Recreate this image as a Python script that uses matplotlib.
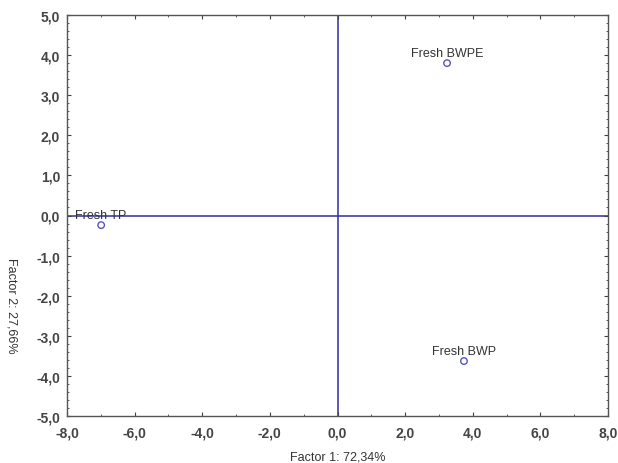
import numpy as np
import matplotlib
matplotlib.use("Agg")
import matplotlib.pyplot as plt
from matplotlib.ticker import MultipleLocator, FuncFormatter

plt.rcParams['font.family'] = ['Liberation Sans', 'DejaVu Sans']

# scores des échantillons sur les deux premiers facteurs
labels = ["Fresh BWPE", "Fresh TP", "Fresh BWP"]
f1 = [3.24, -6.99, 3.74]
f2 = [3.80, -0.24, -3.63]

fig = plt.figure(figsize=(6.18, 4.64), dpi=100)
ax = fig.add_axes([67 / 618, 1 - 417 / 464, 541 / 618, 401 / 464])

ax.axhline(0, color="#2b2f9e", lw=1.1, zorder=1)
ax.axvline(0, color="#2b2f9e", lw=1.1, zorder=1)

ax.scatter(f1, f2, s=22, facecolors="none", edgecolors="#5555c0", lw=1.0, zorder=3)
for x, y, t in zip(f1, f2, labels):
    ax.annotate(t, (x, y), xytext=(0, 3), textcoords="offset points",
                ha="center", va="bottom", fontsize=9, color="#333333")

ax.set_xlim(-8, 8)
ax.set_ylim(-5, 5)
ax.xaxis.set_major_locator(MultipleLocator(2))
ax.xaxis.set_minor_locator(MultipleLocator(1))
ax.yaxis.set_major_locator(MultipleLocator(1))
ax.yaxis.set_minor_locator(MultipleLocator(0.2))

fmt = FuncFormatter(lambda v, p: f"{v:.1f}".replace(".", ","))
ax.xaxis.set_major_formatter(fmt)
ax.yaxis.set_major_formatter(fmt)

ax.tick_params(which="both", direction="in", top=True, right=True,
               colors="#444444", labelsize=10, labelcolor="#444444")
ax.tick_params(which="major", length=3, pad=5)
ax.tick_params(axis="x", which="major", pad=7)
ax.tick_params(which="minor", length=1.5)
for lab in ax.get_xticklabels() + ax.get_yticklabels():
    lab.set_fontweight("bold")
for s in ax.spines.values():
    s.set_color("#555555")
    s.set_linewidth(1.0)

ax.set_xlabel("Factor 1: 72,34%", fontsize=9, color="#333333")
ax.xaxis.set_label_coords(0.5, -0.087)
ax.set_ylabel("Factor 2: 27,66%", fontsize=9, color="#333333", rotation=270)
ax.yaxis.set_label_coords(-0.114, 0.277)

fig.savefig("out.png", dpi=100)
